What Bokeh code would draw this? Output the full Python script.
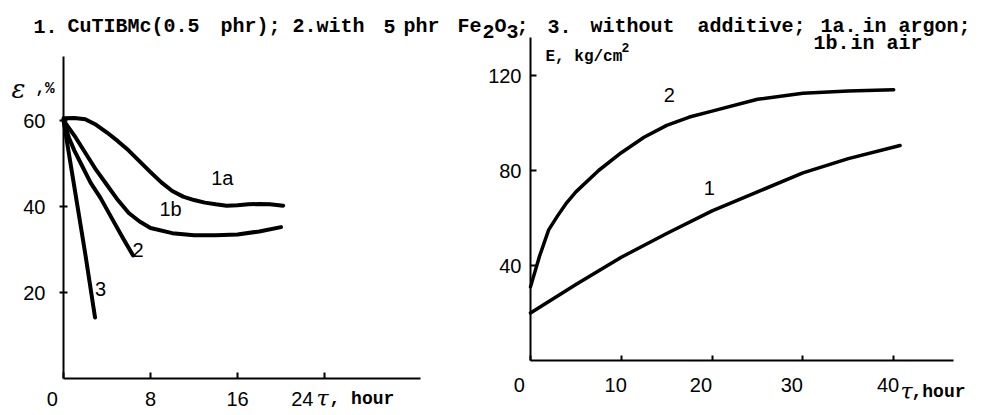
from bokeh.plotting import figure
from bokeh.models import Label, FixedTicker, Range1d
from bokeh.layouts import row
from bokeh.embed import file_html
from bokeh.resources import INLINE

# ---------------- data ----------------
# Left chart: elongation epsilon (%) vs time tau (hour)
t_1a = [0, 1, 2, 3, 4, 5, 6, 7, 8, 9, 10, 11, 12, 13, 14, 15, 16, 17, 18, 19, 20.2]
e_1a = [60.5, 60.6, 60.3, 59.0, 57.2, 55.2, 53.0, 50.5, 48.0, 45.6, 43.6, 42.3, 41.5, 40.9, 40.5, 40.2, 40.3, 40.5, 40.6, 40.5, 40.2]
t_1b = [0, 1, 2, 3, 4, 5, 6, 7, 8, 10, 12, 14, 16, 18, 20]
e_1b = [60.0, 56.5, 52.5, 48.5, 45.0, 41.5, 38.5, 36.5, 35.0, 33.8, 33.3, 33.3, 33.5, 34.2, 35.2]
t_2 = [0, 0.5, 1, 1.6, 2.5, 3.4, 4.5, 5.5, 6.4]
e_2 = [60.0, 56.0, 53.0, 50.0, 45.5, 42.0, 37.0, 32.5, 28.6]
t_3 = [0, 1, 2, 2.9]
e_3 = [60.0, 44.5, 29.0, 14.2]
left_xticks = [0, 8, 16, 24]
left_yticks = [20, 40, 60]

# Right chart: modulus E (kg/cm2) vs time tau (hour)
t_r2 = [0, 1, 2, 3, 4, 5, 7.5, 10, 12.5, 15, 17.5, 20, 25, 30, 35, 40]
E_r2 = [31, 44, 55, 61, 66.5, 71, 80, 87.5, 94, 99, 102.5, 105, 110, 112.5, 113.5, 114]
t_r1 = [0, 5, 10, 15, 20, 25, 30, 35, 40.7]
E_r1 = [20, 32, 43.5, 53.5, 63, 71, 79, 85, 90.5]
right_xticks = [0, 10, 20, 30, 40]
right_yticks = [40, 80, 120]

MONO = "Liberation Mono"
SANS = "Liberation Sans"
SERIF = "DejaVu Serif"
FSP = "\u2007"  # figure space, used to nudge some tick labels left as in the original

PAGE_W, PAGE_H = 988, 415
SPLIT = 455  # page x where the right figure starts

# ---- geometry (page pixels) ----
# left chart: origin at (63, 378), 10.875 px per hour, 4.3 px per %
L_OX, L_OY, L_SX, L_SY = 63, 378, 10.875, 4.3
# right chart: origin at (530, 360), 9.08 px per hour, 2.375 px per kg/cm2
R_OX, R_OY, R_SX, R_SY = 530, 360, 9.08, 2.375


def lpx(px):
    return (px - L_OX) / L_SX


def lpy(py):
    return (L_OY - py) / L_SY


def rpx(px):
    return (px - R_OX) / R_SX


def rpy(py):
    return (R_OY - py) / R_SY


def make_fig(w, x0, x1, y0, y1):
    f = figure(width=w, height=PAGE_H, title=None, output_backend="svg", toolbar_location=None,
               x_range=Range1d(x0, x1), y_range=Range1d(y0, y1), min_border=0,
               min_border_left=0, min_border_right=0, min_border_top=0, min_border_bottom=0)
    f.grid.visible = False
    f.outline_line_color = None
    f.background_fill_color = "white"
    f.border_fill_color = "white"
    return f


def style_axis(ax, ticks, loc, bounds, tin, tout, standoff):
    ax.ticker = FixedTicker(ticks=ticks)
    ax.fixed_location = loc
    ax.bounds = bounds
    ax.axis_line_width = 2
    ax.axis_line_color = "black"
    ax.major_tick_line_width = 2
    ax.major_tick_in = tin
    ax.major_tick_out = tout
    ax.minor_tick_line_color = None
    ax.major_label_standoff = standoff
    ax.major_label_text_font = SANS
    ax.major_label_text_font_size = "20px"
    ax.major_label_text_color = "black"


def lab(fig, x, y, text, font=MONO, size="20px", style="bold", align="left", baseline="alphabetic"):
    fig.add_layout(Label(x=x, y=y, text=text, text_font=font, text_font_size=size,
                         text_font_style=style, text_align=align, text_baseline=baseline,
                         text_color="black"))


# ---------------- left figure ----------------
pl = make_fig(SPLIT, lpx(0), lpx(SPLIT), lpy(PAGE_H), lpy(0))
style_axis(pl.xaxis[0], left_xticks, 0, (0, 32.8), 6, 0, 9)
style_axis(pl.yaxis[0], left_yticks, 0, (0, 75), 4, 4, 14)
pl.xaxis[0].major_label_overrides = {0: "0" + FSP * 2, 24: "24" + FSP * 4}

for xs, ys in ((t_1a, e_1a), (t_1b, e_1b), (t_2, e_2), (t_3, e_3)):
    pl.line(xs, ys, line_width=4, line_color="black", line_cap="round", line_join="round")

lab(pl, 14.6, 46.6, "1a", SANS, "20px", "normal", "center", "middle")
lab(pl, 9.84, 39.5, "1b", SANS, "20px", "normal", "center", "middle")
lab(pl, 6.85, 30.0, "2", SANS, "20px", "normal", "center", "middle")
lab(pl, 3.4, 20.7, "3", SANS, "20px", "normal", "center", "middle")

lab(pl, lpx(11), lpy(88), "ε", SERIF, "26px", "italic")
lab(pl, lpx(35), lpy(88), ",%", MONO, "16px", "bold")
lab(pl, lpx(316), lpy(398), "τ", SERIF, "22px", "italic")
lab(pl, lpx(329), lpy(398), ", hour", MONO, "18px", "bold")

TB = 26
for txt, px in (("1.", 33), ("CuTIBMc(0.5", 67), ("phr);", 220), ("2.with", 292), ("5", 383), ("phr", 403)):
    lab(pl, lpx(px), lpy(TB), txt)

# ---------------- right figure ----------------
pr = make_fig(PAGE_W - SPLIT, rpx(SPLIT), rpx(PAGE_W), rpy(PAGE_H), rpy(0))
style_axis(pr.xaxis[0], right_xticks, 0, (0, 46.6), 5, 0, 13)
style_axis(pr.yaxis[0], right_yticks, 0, (0, 136), 6, 0, 9)
pr.xaxis[0].major_label_overrides = {0: "0" + FSP * 2, 10: "10" + FSP, 20: "20" + FSP * 2,
                                     30: "30" + FSP * 2, 40: "40" + FSP}

for xs, ys in ((t_r2, E_r2), (t_r1, E_r1)):
    pr.line(xs, ys, line_width=3.5, line_color="black", line_cap="round", line_join="round")

lab(pr, 15.3, 112.0, "2", SANS, "20px", "normal", "center", "middle")
lab(pr, 19.7, 72.6, "1", SANS, "20px", "normal", "center", "middle")

lab(pr, rpx(900), rpy(391), "τ", SERIF, "22px", "italic")
lab(pr, rpx(911), rpy(391), ",hour", MONO, "18px", "bold")

lab(pr, rpx(545), rpy(56), "E, kg/cm", MONO, "16px", "bold")
lab(pr, rpx(621), rpy(47), "2", MONO, "13px", "bold")

for txt, px, py in (("Fe", 457, TB), ("2", 482, TB + 5), ("O", 494, TB), ("3", 506, TB + 5), (";", 516, TB),
                    ("3.", 547, TB), ("without", 590, TB), ("additive;", 697, TB),
                    ("1a.", 820, TB), ("in argon;", 862, TB),
                    ("1b.", 813, 43), ("in air", 850, 43)):
    lab(pr, rpx(px), rpy(py), txt)

layout = row(pl, pr)
open("out.html", "w").write(file_html(layout, INLINE))
